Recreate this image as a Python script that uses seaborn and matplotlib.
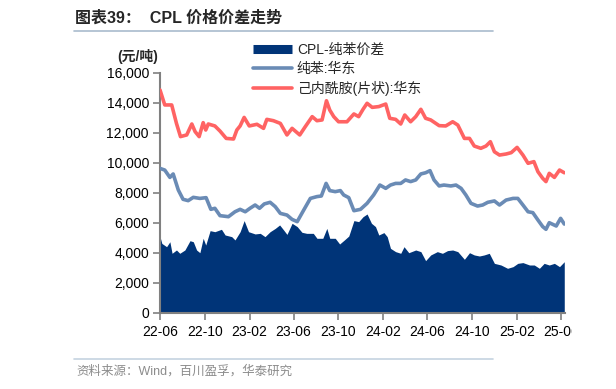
import matplotlib
matplotlib.use("Agg")
import matplotlib.pyplot as plt
import matplotlib.dates as mdates
from matplotlib.lines import Line2D
from matplotlib.ticker import FuncFormatter
from matplotlib.transforms import Bbox, TransformedBbox
import seaborn as sns
import pandas as pd

# ---------------- data ----------------
cpl_dates = ["2022-06-01","2022-06-14","2022-07-03","2022-07-16","2022-07-27","2022-08-13","2022-08-27",
             "2022-09-05","2022-09-16","2022-09-27","2022-10-04","2022-10-11","2022-10-29","2022-11-12",
             "2022-11-29","2022-12-19","2022-12-28","2023-01-06","2023-01-17","2023-01-31","2023-02-21",
             "2023-03-11","2023-03-20","2023-04-07","2023-04-26","2023-05-14","2023-05-28","2023-06-18",
             "2023-07-03","2023-07-22","2023-08-04","2023-08-18","2023-08-30","2023-09-08","2023-09-19",
             "2023-10-02","2023-10-25","2023-11-13","2023-11-26","2023-12-08","2023-12-19","2024-01-02",
             "2024-01-20","2024-02-08","2024-02-19","2024-03-06","2024-03-20","2024-03-31","2024-04-16",
             "2024-04-30","2024-05-14","2024-05-27","2024-06-10","2024-07-03","2024-07-21","2024-08-09",
             "2024-08-23","2024-09-10","2024-09-24","2024-10-07","2024-10-25","2024-11-08","2024-11-20",
             "2024-12-01","2024-12-15","2025-01-02","2025-01-16","2025-02-01","2025-02-17","2025-03-03",
             "2025-03-19","2025-03-30","2025-04-12","2025-04-21","2025-04-30","2025-05-14","2025-05-28",
             "2025-06-10"]
cpl_price = [14870,13870,13870,12640,11760,11870,12600,12090,11760,12690,12200,12600,12470,12130,
             11640,11600,12200,12470,13040,12470,12580,12310,12910,12820,12640,11870,12310,11870,
             12420,13090,12820,12870,14150,13530,13090,12750,12750,13270,13090,13580,13980,13710,
             13760,13930,12980,12910,12600,13200,12750,13090,13580,12980,12870,12490,12470,12750,
             12530,11640,11640,11130,10980,11130,11420,10750,10530,10600,10690,11040,10530,9980,
             10090,9420,8980,8760,9310,9040,9530,9350]

benz_dates = ["2022-06-01","2022-06-14","2022-06-28","2022-07-07","2022-07-21","2022-08-03","2022-08-17",
              "2022-08-31","2022-09-18","2022-10-05","2022-10-18","2022-10-29","2022-11-12","2022-12-05",
              "2022-12-23","2023-01-06","2023-01-20","2023-02-02","2023-02-16","2023-02-28","2023-03-13",
              "2023-03-29","2023-04-12","2023-04-26","2023-05-14","2023-05-28","2023-06-11","2023-06-29",
              "2023-07-17","2023-08-04","2023-08-16","2023-08-29","2023-09-08","2023-09-23","2023-10-07",
              "2023-10-16","2023-10-30","2023-11-13","2023-12-01","2023-12-19","2024-01-06","2024-01-23",
              "2024-02-08","2024-02-21","2024-03-06","2024-03-20","2024-04-02","2024-04-16","2024-04-30",
              "2024-05-14","2024-05-27","2024-06-08","2024-06-19","2024-07-03","2024-07-16","2024-08-04",
              "2024-08-18","2024-09-01","2024-09-14","2024-09-28","2024-10-16","2024-10-30","2024-11-13",
              "2024-12-01","2024-12-15","2025-01-02","2025-01-21","2025-02-03","2025-02-17","2025-03-03",
              "2025-03-16","2025-03-30","2025-04-12","2025-04-21","2025-04-30","2025-05-19","2025-05-31",
              "2025-06-10"]
benz_price = [9640,9530,9040,9270,8200,7580,7490,7710,7640,7690,6910,6980,6490,6420,
              6750,6910,6750,6980,7200,6980,7270,7380,7090,6640,6530,6240,6090,6870,
              7640,7760,7800,8640,8160,8090,8160,7870,7690,6820,6910,7310,7870,8530,
              8310,8530,8640,8640,8870,8760,8870,9270,9350,9490,8870,8470,8530,8470,
              8530,8310,7870,7310,7130,7200,7380,7470,7200,7530,7640,7640,7200,6750,
              6690,6200,5760,5580,6020,5800,6310,5930]

spread_dates = ["2022-06-01","2022-06-06","2022-06-19","2022-06-28","2022-07-04","2022-07-16","2022-07-25",
                "2022-08-08","2022-08-22","2022-08-31","2022-09-09","2022-09-18","2022-09-27","2022-10-04",
                "2022-10-16","2022-10-29","2022-11-16","2022-11-26","2022-12-14","2022-12-23","2023-01-06",
                "2023-01-17","2023-01-29","2023-02-16","2023-03-02","2023-03-15","2023-03-29","2023-04-12",
                "2023-04-24","2023-05-05","2023-05-14","2023-05-28","2023-06-11","2023-06-24","2023-07-07",
                "2023-07-25","2023-08-04","2023-08-20","2023-08-31","2023-09-08","2023-09-23","2023-10-05",
                "2023-10-18","2023-10-30","2023-11-13","2023-11-26","2023-12-08","2023-12-19","2023-12-31",
                "2024-01-11","2024-01-20","2024-02-03","2024-02-12","2024-02-21","2024-03-06","2024-03-20",
                "2024-03-29","2024-04-11","2024-04-30","2024-05-14","2024-05-27","2024-06-10","2024-06-28",
                "2024-07-12","2024-07-26","2024-08-09","2024-08-23","2024-09-10","2024-09-24","2024-10-07",
                "2024-10-21","2024-11-03","2024-11-17","2024-12-01","2024-12-19","2025-01-06","2025-01-21",
                "2025-02-03","2025-02-17","2025-03-07","2025-03-20","2025-04-03","2025-04-16","2025-04-30",
                "2025-05-14","2025-05-28","2025-06-10"]
spread = [5090,4640,4420,4750,3980,4200,3980,4200,4820,4750,4200,4020,4980,4530,
          5490,5420,5580,5200,5090,4870,5420,6160,5420,5270,5310,5090,5420,5640,
          5870,5530,5240,5980,5760,5380,5310,5310,4980,4980,5640,4980,4980,4600,
          4870,5130,6160,6090,6420,6600,5980,5760,5200,5360,5090,4310,4090,3980,
          4420,4020,4200,4090,3490,3870,4090,3980,4160,4200,4090,3580,4020,3870,
          3800,3870,3980,3310,3200,2980,3090,3310,3360,3200,3200,2980,3310,3200,
          3310,3090,3420]

labels = ["CPL-纯苯价差", "纯苯:华东", "己内酰胺(片状):华东"]
yticks = [0, 2000, 4000, 6000, 8000, 10000, 12000, 14000, 16000]
xtick_months = ["2022-06","2022-10","2023-02","2023-06","2023-10","2024-02","2024-06","2024-10","2025-02","2025-06"]

# ---------------- style ----------------
C_AREA = "#003478"
C_BENZ = "#6A8BB5"
C_CPL = "#FF6363"
GRAY = "#808080"

sns.set_theme(style="white")
plt.rcParams["font.family"] = ["Liberation Sans", "Noto Sans CJK SC", "DejaVu Sans"]

fig = plt.figure(figsize=(6.16, 3.89), dpi=100)
ax = fig.add_axes([160/616, 1-313/389, (565-160)/616, (313-73)/389])

df_c = pd.DataFrame({"date": pd.to_datetime(cpl_dates), "v": cpl_price})
df_b = pd.DataFrame({"date": pd.to_datetime(benz_dates), "v": benz_price})
df_s = pd.DataFrame({"date": pd.to_datetime(spread_dates), "v": spread})

ax.fill_between(df_s["date"], 0, df_s["v"], color=C_AREA, linewidth=0, zorder=1)
sns.lineplot(data=df_b, x="date", y="v", ax=ax, color=C_BENZ, linewidth=2.6, zorder=3)
sns.lineplot(data=df_c, x="date", y="v", ax=ax, color=C_CPL, linewidth=2.6, zorder=3)

ax.set_xlim(pd.Timestamp("2022-06-01"), pd.Timestamp("2025-06-12"))
ax.set_ylim(0, 16000)
ax.set_yticks(yticks)
ax.yaxis.set_major_formatter(FuncFormatter(lambda v, p: f"{int(v):,}"))
ax.set_xticks(pd.to_datetime(xtick_months))
ax.xaxis.set_major_formatter(mdates.DateFormatter("%y-%m"))
ax.set_xlabel("")
ax.set_ylabel("")

for s in ["top", "right"]:
    ax.spines[s].set_visible(False)
for s in ["left", "bottom"]:
    ax.spines[s].set_color(GRAY)
    ax.spines[s].set_linewidth(1.5)
ax.tick_params(axis="both", which="major", length=5, width=1.2, color=GRAY,
               direction="out", labelsize=10, labelcolor="black", pad=3)
ax.tick_params(axis="x", pad=4)
ax.tick_params(left=True, bottom=True)
ax.grid(False)

# the reference crops the last x label at the right edge of its chart region
fig.canvas.draw()
clip = TransformedBbox(Bbox([[0, 0], [572/616, 1]]), fig.transFigure)
for lab in ax.get_xticklabels():
    lab.set_clip_on(True)
    lab.set_clip_box(clip)

handles = [Line2D([0], [0], color=C_AREA, linewidth=6.5, solid_capstyle="butt"),
           Line2D([0], [0], color=C_BENZ, linewidth=2.6),
           Line2D([0], [0], color=C_CPL, linewidth=2.6)]
leg = fig.legend(handles, labels, loc="upper left", bbox_to_anchor=(253/616, 1-43/389),
                 frameon=False, fontsize=10, handlelength=2.8, handletextpad=0.35,
                 labelspacing=0.35, borderpad=0, borderaxespad=0)
for t in leg.get_texts():
    t.set_family(["Liberation Sans", "Noto Sans CJK SC"])

# y-unit label
fig.text(138/616, 1-57/389, "(元/吨)", fontsize=10, fontweight="bold", ha="center", va="center",
         family=["Liberation Sans", "Noto Sans CJK SC"])

# title
fig.text(75/616, 1-18/389, "图表39：  CPL 价格价差走势", fontsize=11.5, fontweight="bold",
         ha="left", va="center", family=["Liberation Sans", "Noto Sans CJK SC"])
fig.add_artist(Line2D([74/616, 493/616], [1-31/389, 1-31/389], color="#A9BBCD", linewidth=1.2))

# footer
fig.add_artist(Line2D([74/616, 493/616], [1-359/389, 1-359/389], color="#C5D3E0", linewidth=1.2))
fig.text(76/616, 1-371/389, "资料来源：Wind，百川盈孚，华泰研究", fontsize=9, color="#8C8C8C",
         ha="left", va="center", family=["Liberation Sans", "Noto Sans CJK SC"])

fig.savefig("out.png", dpi=100)
